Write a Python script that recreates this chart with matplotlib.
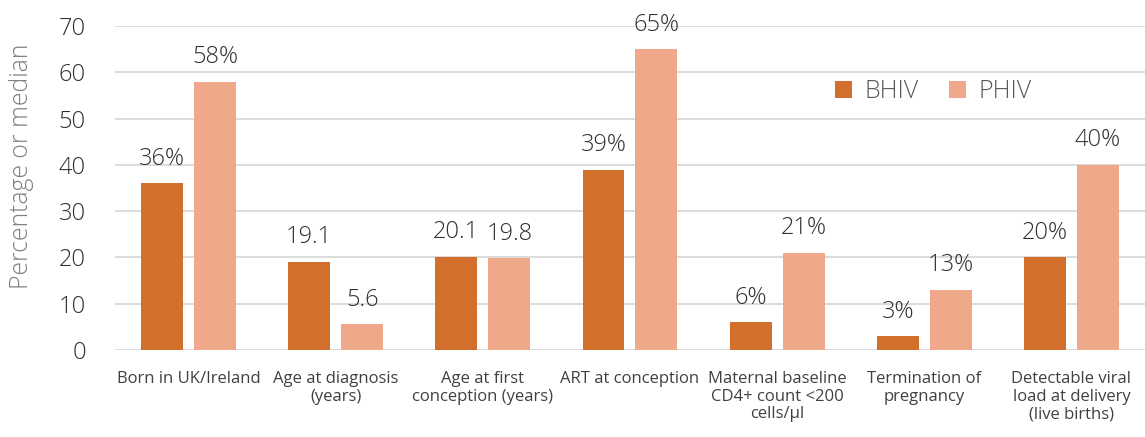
import numpy as np
import matplotlib
matplotlib.use("Agg")
import matplotlib.pyplot as plt

plt.rcParams["font.family"] = ["Open Sans", "DejaVu Sans"]

categories = [
    "Born in UK/Ireland",
    "Age at diagnosis\n(years)",
    "Age at first\nconception (years)",
    "ART at conception",
    "Maternal baseline\nCD4+ count <200\ncells/\u00b5l",
    "Termination of\npregnancy",
    "Detectable viral\nload at delivery\n(live births)",
]
bhiv = [36, 19.1, 20.1, 39, 6, 3, 20]
phiv = [58, 5.6, 19.8, 65, 21, 13, 40]
bhiv_labels = ["36%", "19.1", "20.1", "39%", "6%", "3%", "20%"]
phiv_labels = ["58%", "5.6", "19.8", "65%", "21%", "13%", "40%"]

BHIV_COL = "#D36F2D"
PHIV_COL = "#F0A88A"
TXT = "#303030"

fig = plt.figure(figsize=(11.45, 4.37), dpi=100)
ax = fig.add_axes([0.1004, 0.199, 0.8996, 0.7415])

x = np.arange(len(categories))
w = 0.285
off = 0.36
b1 = ax.bar(x - off / 2, bhiv, w, color=BHIV_COL, label="BHIV", zorder=3)
b2 = ax.bar(x + off / 2, phiv, w, color=PHIV_COL, label="PHIV", zorder=3)

for bars, labs in ((b1, bhiv_labels), (b2, phiv_labels)):
    for rect, lab in zip(bars, labs):
        ax.annotate(lab, (rect.get_x() + rect.get_width() / 2, rect.get_height()),
                    xytext=(0, 9), textcoords="offset points", ha="center", va="bottom",
                    fontsize=17, color=TXT, fontweight="light")

ax.set_ylim(0, 70)
ax.set_xlim(-0.5, len(categories) - 0.5)
ax.set_yticks(range(0, 71, 10))
ax.yaxis.grid(True, color="#D9D9D9", linewidth=1.3, zorder=0)
ax.set_axisbelow(True)
for s in ax.spines.values():
    s.set_visible(False)
ax.tick_params(axis="both", length=0)
ax.tick_params(axis="y", labelsize=17, labelcolor=TXT, pad=21)
for t in ax.get_yticklabels():
    t.set_fontweight("light")
ax.set_xticks(x)
ax.set_xticklabels(categories, fontsize=12, color="#404040", linespacing=1.15)
ax.tick_params(axis="x", pad=15)
ylab = ax.set_ylabel("Percentage or median", fontsize=17.5, color="#808080",
                     fontweight="light")
ax.yaxis.set_label_coords(-0.079, 0.568)

# size the y label so it spans about 245 px like the original
fig.canvas.draw()
h = ylab.get_window_extent().height
ylab.set_fontsize(17.5 * 245 / h)

ax.legend(loc="upper left", bbox_to_anchor=(0.677, 0.905), ncol=2, frameon=False,
          labelcolor="#595959", handlelength=0.7, handleheight=0.7,
          columnspacing=1.2, handletextpad=0.5, prop={"weight": "light", "size": 18})

fig.savefig("out.png", dpi=100)
